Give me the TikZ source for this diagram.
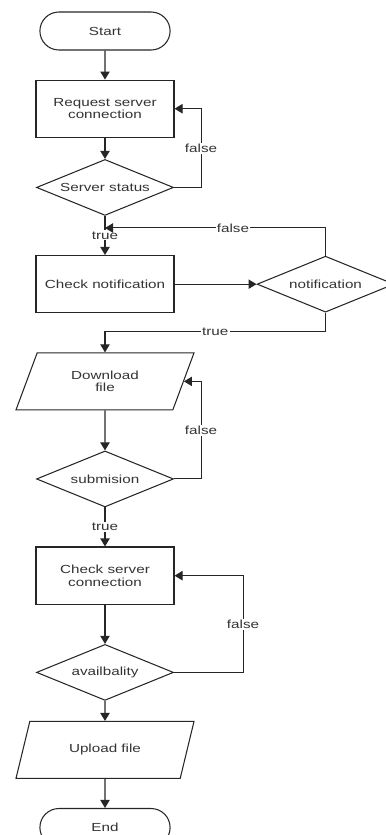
\documentclass[tikz,border=0pt]{standalone}
\usepackage{fontspec}
\setmainfont[FakeStretch=1.3]{Liberation Sans}
\usetikzlibrary{arrows.meta, shapes.geometric, shapes.misc, positioning}

\begin{document}
\begin{tikzpicture}[align=center, font=\fontsize{10}{10.5}\selectfont, text=black!80,
  >={Triangle[length=2.4mm,width=2.8mm]}]
\tikzstyle{terminal}=[rounded rectangle, draw=black!85, line width=0.9pt, minimum width=4.14cm, minimum height=1.14cm]
\tikzstyle{process}=[rectangle, draw=black!85, line width=0.9pt, minimum width=4.14cm, minimum height=1.72cm]
\tikzstyle{decision}=[diamond, aspect=2.45, draw=black!85, line width=0.9pt, inner sep=0pt, minimum width=4.11cm, minimum height=1.68cm]
\tikzstyle{io}=[trapezium, trapezium left angle=53.6, trapezium right angle=126.4, trapezium stretches body, draw=black!85, line width=0.9pt, minimum width=5.34cm, minimum height=1.71cm]
\tikzstyle{flow}=[->, line width=0.9pt, draw=black!85]
\tikzstyle{answer}=[fill=white, inner sep=1pt]

\useasboundingbox (0,0) rectangle (11.58,-25.05);

\node[terminal] (start) at (3.15,-0.93) {Start};
\node[process] (request) [below = 0.87cm of start] {Request server\\connection};
\node[decision] (srv) [below = 0.63cm of request] {Server status};
\node[process] (chk) [below = 1.17cm of srv] {Check notification};
\node[decision] (notif) [right = 2.46cm of chk] {notification};
\node[io] (dl) [below = 1.17cm of chk] {Download\\file};
\node[decision] (sub) [below = 1.2cm of dl] {submision};
\node[process] (csc) [below = 1.17cm of sub] {Check server\\connection};
\node[decision] (avl) [below = 1.17cm of csc] {availbality};
\node[io] (up) [below = 0.6cm of avl] {Upload file};
\node[terminal] (stop) [below = 0.87cm of up] {End};

\coordinate [below = 0.36cm of srv.south] (merge);

\path
  	(start) edge [flow] (request)
  	(request) edge [flow] (srv)
  	(srv) edge [flow] node[answer] {true} (chk)
  	(chk) edge [flow] (notif)
  	(dl) edge [flow] (sub)
  	(sub) edge [flow] node[answer] {true} (csc)
  	(csc) edge [flow] (avl)
  	(avl) edge [flow] (up)
  	(up) edge [flow] (stop);

% loops back
\draw[flow] (srv.east) -- ++(0.81,0) |- node[answer, pos=0.25] {false} (request.east);
\draw[flow] (notif.north) |- node[answer, pos=0.71] {false} (merge);
\draw[flow] (notif.south) -- ++(0,-0.57) -| node[answer, pos=0.25] {true} (dl.north);
\draw[flow] (sub.east) -- ++(0.81,0) |- node[answer, pos=0.25] {false} (dl.east);
\draw[flow] (avl.east) -- ++(2.07,0) |- node[answer, pos=0.25] {false} (csc.east);
\end{tikzpicture}
\end{document}
